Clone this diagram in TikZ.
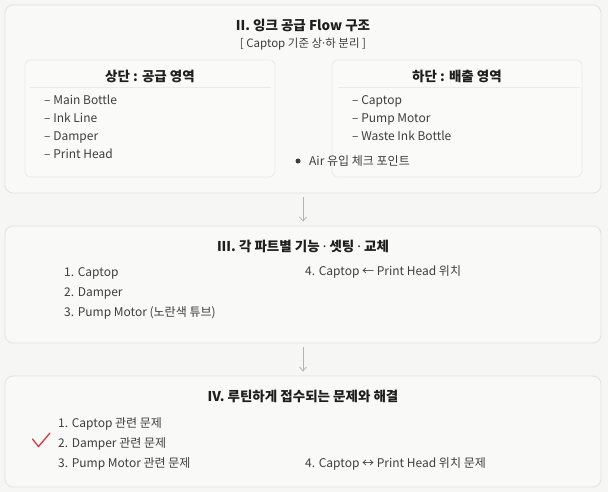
\documentclass[tikz,border=0pt]{standalone}
\usepackage{fontspec}
\setmainfont{Noto Sans CJK KR}
\newfontfamily\latinf{Noto Sans}
\newcommand{\mdot}{{\latinf ·}}
\usetikzlibrary{arrows.meta}
\definecolor{bgc}{HTML}{F6F6F5}
\definecolor{boxfill}{HTML}{F9F9F8}
\definecolor{boxline}{HTML}{E2E2E0}
\definecolor{innerfill}{HTML}{FAFAF9}
\definecolor{innerline}{HTML}{EAEAE8}
\definecolor{titlec}{HTML}{1E1E1E}
\definecolor{itemc}{HTML}{3E3E3E}
\definecolor{arrowc}{HTML}{B4B4B2}
\definecolor{checkc}{HTML}{D9363E}
\tikzset{
  x=1pt, y=-1pt,
  outerbox/.style={draw=boxline, fill=boxfill, rounded corners=8pt, line width=0.8pt, inner sep=0pt},
  innerbox/.style={draw=innerline, fill=innerfill, rounded corners=6pt, line width=0.7pt, inner sep=0pt},
  title/.style={font=\fontsize{13.5}{16}\selectfont\bfseries, text=titlec, inner sep=0pt},
  subtitle/.style={font=\fontsize{11.5}{14}\selectfont, text=itemc, inner sep=0pt},
  ititle/.style={font=\fontsize{13.5}{16}\selectfont\bfseries, text=titlec, inner sep=0pt},
  item/.style={font=\fontsize{12}{14}\selectfont, text=itemc, anchor=west, inner sep=0pt, text height=9pt, text depth=2pt},
  flow/.style={draw=arrowc, line width=0.8pt, -{Straight Barb[length=4pt,width=7pt]}, shorten >=4pt, shorten <=4pt},
  sep/.style={draw=innerline, line width=0.8pt},
}
\begin{document}
\begin{tikzpicture}
\fill[bgc] (0,0) rectangle (608,492);
\useasboundingbox (0,0) rectangle (608,492);

% Box 1
\node[outerbox, minimum width=596pt, minimum height=188pt] (b1) at (303,99) {};
\node[title] (t1) at (303,25) {II. 잉크 공급 Flow 구조};
\node[subtitle] (s1) at (303,44.5) {[ Captop 기준 상\mdot 하 분리 ]};

\node[innerbox, minimum width=250pt, minimum height=117pt] (l1) at (150,118.5) {};
\node[ititle] (lt) at (150,76) {상단 : 공급 영역};
\coordinate (ls1) at (30,87);
\coordinate (ls2) at (271,87);
\draw[sep] (ls1) -- (ls2);
\node[item] (la) at (44,101.5) {– Main Bottle};
\node[item] (lb) at (44,119.5) {– Ink Line};
\node[item] (lc) at (44,137.5) {– Damper};
\node[item] (ld) at (44,155.5) {– Print Head};

\node[innerbox, minimum width=250pt, minimum height=117pt] (r1) at (457,118.5) {};
\node[ititle] (rt) at (457,76) {하단 : 배출 영역};
\coordinate (rs1) at (338,87);
\coordinate (rs2) at (580,87);
\draw[sep] (rs1) -- (rs2);
\node[item] (ra) at (352,101.5) {– Captop};
\node[item] (rb) at (352,119.5) {– Pump Motor};
\node[item] (rc) at (352,137.5) {– Waste Ink Bottle};

\node[circle, fill=itemc, inner sep=0pt, minimum size=5pt] (dot) at (298,161) {};
\node[item] (air) at (309,161.5) {Air 유입 체크 포인트};

% Box 2
\node[outerbox, minimum width=596pt, minimum height=117pt] (b2) at (303,284.5) {};
\node[title] (t2) at (303,246) {III. 각 파트별 기능 \mdot\ 셋팅 \mdot\ 교체};
\node[item] (i21) at (64,272.5) {1. Captop};
\node[item] (i22) at (64,292.5) {2. Damper};
\node[item] (i23) at (64,312.5) {3. Pump Motor (노란색 튜브)};
\node[item] (i24) at (305,271.5) {4. Captop ← Print Head 위치};

% Box 3
\node[outerbox, minimum width=596pt, minimum height=111pt] (b3) at (303,431.5) {};
\node[title] (t3) at (303,396) {IV. 루틴하게 접수되는 문제와 해결};
\node[item] (i31) at (58,423.5) {1. Captop 관련 문제};
\node[item] (i32) at (58,443.5) {2. Damper 관련 문제};
\node[item] (i33) at (58,463.5) {3. Pump Motor 관련 문제};
\node[item] (i34) at (305,463.5) {4. Captop ↔ Print Head 위치 문제};

\coordinate (ck1) at (32.5,439);
\coordinate (ck2) at (38.5,446.5);
\coordinate (ck3) at (50,433);
\draw[checkc, line width=1.3pt, line cap=round, line join=round] (ck1) -- (ck2) -- (ck3);

% connectors
\draw[flow] (b1.south) -- (b2.north);
\draw[flow] (b2.south) -- (b3.north);
\end{tikzpicture}
\end{document}
